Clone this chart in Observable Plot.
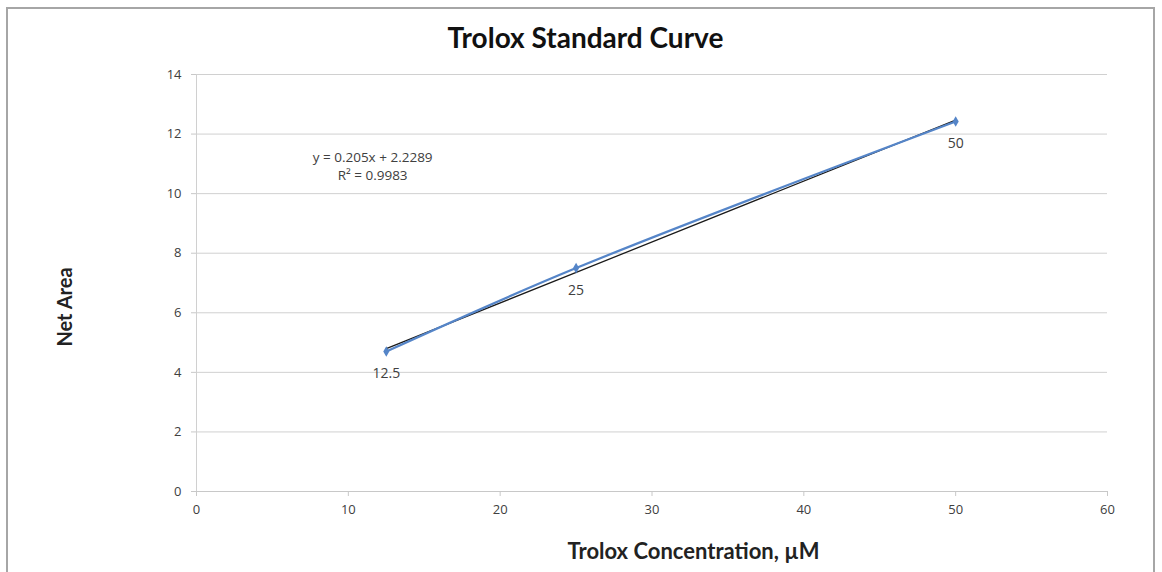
<!DOCTYPE html>
<html>
<head>
<meta charset="utf-8">
<script src="https://cdn.jsdelivr.net/npm/d3@7"></script>
<script src="https://cdn.jsdelivr.net/npm/@observablehq/plot@0.6"></script>
<style>
  html, body { margin: 0; padding: 0; background: #fff; }
  #wrap { position: relative; width: 1162px; height: 572px; overflow: hidden; }
  #frame { position: absolute; left: 6px; top: 7px; width: 1149px; height: 580px; border: 2px solid #a6a6a6; box-sizing: border-box; pointer-events: none; }
  #chart { position: absolute; left: 0; top: 0; }
</style>
</head>
<body>
<div id="wrap"><div id="chart"></div><div id="frame"></div></div>
<script>
const title = "Trolox Standard Curve";
const xLabel = "Trolox Concentration, µM";
const yLabel = "Net Area";
const concentrations = [12.5, 25, 50];
const netArea = [4.70, 7.50, 12.42];
const pointLabels = ["12.5", "25", "50"];
const equationText = "y = 0.205x + 2.2289\nR² = 0.9983";
const xTicks = [0, 10, 20, 30, 40, 50, 60];
const yTicks = [0, 2, 4, 6, 8, 10, 12, 14];

const data = concentrations.map((c, i) => ({x: c, y: netArea[i], label: pointLabels[i]}));
const blue = "#5585c8";
const tickFont = "Open Sans, sans-serif";

const plot = Plot.plot({
  width: 1162,
  height: 572,
  marginLeft: 196,
  marginRight: 55,
  marginTop: 74,
  marginBottom: 81,
  style: {fontFamily: tickFont, fontSize: "13px", color: "#404040", background: "transparent"},
  x: {domain: [0, 60], ticks: xTicks, label: null},
  y: {domain: [0, 14], ticks: yTicks, label: null},
  marks: [
    Plot.gridY(yTicks, {stroke: "#d0d0d0", strokeOpacity: 1, strokeWidth: 1}),
    Plot.ruleX([0], {stroke: "#d0d0d0"}),
    Plot.ruleY([0], {stroke: "#c8c8c8"}),
    Plot.axisX(xTicks, {tickSize: 5, tickPadding: 8, stroke: "#c8c8c8", fill: "#404040", fontSize: 13}),
    Plot.axisY(yTicks, {tickSize: 5, tickPadding: 10, stroke: "#c8c8c8", fill: "#404040", fontSize: 13}),
    Plot.linearRegressionY(data, {x: "x", y: "y", stroke: "#1a1a1a", strokeWidth: 1.3, ci: 0}),
    Plot.line(data, {x: "x", y: "y", stroke: blue, strokeWidth: 2.2, curve: "catmull-rom"}),
    Plot.dot(data, {x: "x", y: "y", symbol: "diamond", r: 3.2, fill: blue}),
    Plot.text(data, {x: "x", y: "y", text: "label", dy: 22, fill: "#404040", fontSize: 14}),
    Plot.text([equationText], {x: 11.6, y: 11.5, text: d => d, lineAnchor: "top", fill: "#404040", fontSize: 13.5, lineHeight: 1.35}),
    Plot.text([title], {frameAnchor: "top", dx: 585 - 651.5, dy: -46, text: d => d, fontSize: 28, fontWeight: "bold", fill: "#111", fontFamily: "Lato, sans-serif"}),
    Plot.text([xLabel], {frameAnchor: "bottom", dx: 693 - 651.5, dy: 67, text: d => d, fontSize: 22, fontWeight: "bold", fill: "#222", fontFamily: "Lato, sans-serif"}),
    Plot.text([yLabel], {frameAnchor: "left", dx: -131, dy: 24, rotate: -90, textAnchor: "middle", text: d => d, fontSize: 20, fontWeight: "bold", fill: "#222", fontFamily: "Lato, sans-serif"})
  ]
});
document.getElementById("chart").appendChild(plot);
</script>
</body>
</html>
